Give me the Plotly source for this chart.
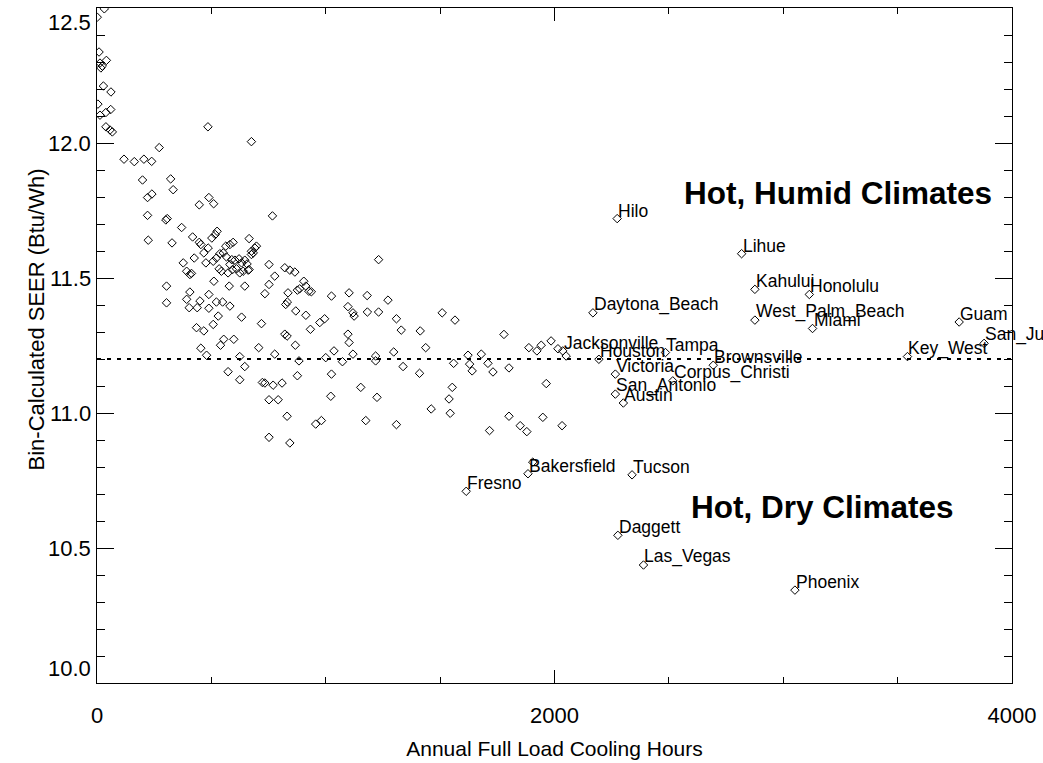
import plotly.graph_objects as go

# ---------------- data ----------------
# unlabeled stations: annual full load cooling hours / bin-calculated SEER
other_hours = [
    1, 32, 9, 13, 23, 41, 17, 28, 61, 4, 13, 39, 60, 39, 57, 67,
    118, 163, 205, 239, 272, 485, 675, 199, 322, 333, 221, 240,
    447, 489, 510, 221, 767, 301, 307, 370, 224, 328,
    418, 447, 454, 486, 502, 517, 525, 563, 581, 595, 665, 675, 690, 697,
    425, 467, 476, 508, 522, 537, 552, 566, 581, 589, 603, 621, 632, 646, 656, 665, 675, 683,
    377, 392, 406, 413, 511, 534, 544, 573, 592, 610, 624, 639, 661, 752, 777, 821, 843, 865,
    304, 406, 578, 646, 734, 752, 835, 876, 886, 904, 913, 926, 937, 1025, 1102,
    304, 392, 403, 438, 450, 489, 489, 522, 549, 581, 632, 719, 825, 832, 869, 913, 974, 995, 1097,
    435, 467, 508, 530, 540, 554, 598, 707, 777, 821, 831, 867, 933, 1000, 1036, 1097, 1102,
    454, 479, 624, 646, 573, 624, 883, 1073,
    723, 734, 770, 809, 876, 1025, 752, 792, 1022,
    831, 956, 981, 752, 843,
    1231, 1181, 1272, 1119, 1124, 1182, 1231, 1309, 1330, 1119, 1218, 1218, 1297, 1338,
    1413, 1437, 1410, 1509, 1565, 1559, 1622, 1629, 1640, 1680, 1709, 1731, 1779, 1801,
    1888, 1923, 1942, 1985, 2015, 2051, 1153, 1224, 1553, 1539, 1461, 1544, 1964, 1175,
    1309, 1801, 1850, 1879, 1949, 2033, 1716, 1905,
]
other_seer = [
    12.466, 12.497, 12.337, 12.296, 12.285, 12.306, 12.278, 12.211, 12.189, 12.144, 12.103, 12.113, 12.124, 12.060, 12.048, 12.041,
    11.940, 11.931, 11.940, 11.932, 11.983, 12.060, 12.005, 11.863, 11.867, 11.827, 11.798, 11.811,
    11.771, 11.798, 11.775, 11.732, 11.730, 11.715, 11.720, 11.687, 11.640, 11.630,
    11.652, 11.632, 11.624, 11.611, 11.648, 11.661, 11.673, 11.618, 11.624, 11.632, 11.646, 11.599, 11.611, 11.618,
    11.574, 11.593, 11.556, 11.562, 11.574, 11.590, 11.593, 11.578, 11.550, 11.568, 11.566, 11.571, 11.556, 11.566, 11.552, 11.531, 11.587, 11.593,
    11.556, 11.525, 11.513, 11.517, 11.488, 11.534, 11.525, 11.519, 11.531, 11.534, 11.519, 11.525, 11.529, 11.550, 11.507, 11.538, 11.529, 11.522,
    11.470, 11.448, 11.470, 11.470, 11.442, 11.476, 11.445, 11.455, 11.460, 11.488, 11.470, 11.451, 11.449, 11.433, 11.445,
    11.408, 11.421, 11.390, 11.390, 11.415, 11.439, 11.388, 11.411, 11.411, 11.396, 11.355, 11.331, 11.402, 11.411, 11.378, 11.362, 11.335, 11.349, 11.394,
    11.316, 11.304, 11.328, 11.359, 11.251, 11.273, 11.273, 11.242, 11.218, 11.292, 11.285, 11.251, 11.310, 11.205, 11.230, 11.292, 11.261,
    11.240, 11.214, 11.209, 11.172, 11.153, 11.123, 11.193, 11.190,
    11.113, 11.111, 11.103, 11.111, 11.138, 11.144, 11.049, 11.049, 11.062,
    10.988, 10.959, 10.972, 10.910, 10.889,
    11.568, 11.435, 11.418, 11.371, 11.359, 11.374, 11.374, 11.349, 11.307, 11.218, 11.211, 11.193, 11.226, 11.172,
    11.304, 11.242, 11.147, 11.371, 11.344, 11.184, 11.214, 11.181, 11.156, 11.218, 11.184, 11.152, 11.291, 11.167,
    11.242, 11.230, 11.251, 11.267, 11.238, 11.211, 11.095, 11.058, 11.095, 11.052, 11.015, 10.999, 11.109, 10.972,
    10.957, 10.988, 10.953, 10.931, 10.984, 10.953, 10.935, 10.818,
]

# labeled stations
city_names = [
    "Hilo", "Lihue", "Kahului", "Honolulu", "Daytona_Beach", "West_Palm_Beach", "Miami",
    "Jacksonville", "Houston", "Tampa", "Brownsville", "Victoria", "Corpus_Christi",
    "San_Antonio", "Austin", "Guam", "San_Juan", "Key_West",
    "Fresno", "Bakersfield", "Tucson", "Daggett", "Las_Vegas", "Phoenix",
]
city_hours = [
    2274, 2818, 2876, 3114, 2168, 2876, 3128,
    2036, 2194, 2485, 2694, 2266, 2517,
    2266, 2301, 3769, 3878, 3543,
    1614, 1884, 2339, 2277, 2389, 3051,
]
city_seer = [
    11.720, 11.590, 11.458, 11.439, 11.371, 11.344, 11.313,
    11.230, 11.199, 11.224, 11.177, 11.144, 11.119,
    11.070, 11.037, 11.337, 11.258, 11.209,
    10.710, 10.775, 10.771, 10.547, 10.437, 10.344,
]

reference_seer = 11.2
x_range = [0, 4000]
y_range = [10.0, 12.5]
x_tick_values = [0, 2000, 4000]
y_tick_values = [10.0, 10.5, 11.0, 11.5, 12.0, 12.5]

FONT = "Liberation Sans, Arial, Helvetica, sans-serif"

# ---------------- figure ----------------
fig = go.Figure()

fig.add_trace(go.Scatter(
    x=x_range, y=[reference_seer, reference_seer], mode="lines",
    line=dict(color="black", width=2, dash="4px,6px"),
    hoverinfo="skip", showlegend=False,
))

marker_style = dict(symbol="diamond-open", size=6.5, color="black",
                    line=dict(color="black", width=1))

fig.add_trace(go.Scatter(
    x=other_hours, y=other_seer, mode="markers",
    marker=marker_style, showlegend=False,
))
fig.add_trace(go.Scatter(
    x=city_hours, y=city_seer, mode="markers", text=city_names,
    marker=marker_style, showlegend=False,
))

annotations = []
for name, hx, sy in zip(city_names, city_hours, city_seer):
    annotations.append(dict(
        x=hx, y=sy, xref="x", yref="y", text=name, showarrow=False,
        xanchor="left", yanchor="bottom", xshift=-1, yshift=-4,
        font=dict(family=FONT, size=17.5, color="black"),
    ))

# y tick labels (first/last kept inside the frame as in the original)
for v in y_tick_values:
    if v == y_range[1]:
        ya = "top"
    elif v == y_range[0]:
        ya = "bottom"
    else:
        ya = "middle"
    annotations.append(dict(
        x=0, y=v, xref="paper", yref="y", text=f"{v:.1f}", showarrow=False,
        xanchor="right", yanchor=ya, xshift=-4,
        font=dict(family=FONT, size=22, color="black"),
    ))

# y axis title
annotations.append(dict(
    x=-0.066, y=0.538, xref="paper", yref="paper",
    text="Bin-Calculated SEER (Btu/Wh)", showarrow=False, textangle=-90,
    xanchor="center", yanchor="middle",
    font=dict(family=FONT, size=22, color="black"),
))

# region labels
annotations.append(dict(
    x=2559, y=11.815, xref="x", yref="y", text="<b>Hot, Humid Climates</b>",
    showarrow=False, xanchor="left", yanchor="middle",
    font=dict(family=FONT, size=31.5, color="black"),
))
annotations.append(dict(
    x=2590, y=10.653, xref="x", yref="y", text="<b>Hot, Dry Climates</b>",
    showarrow=False, xanchor="left", yanchor="middle",
    font=dict(family=FONT, size=31.5, color="black"),
))

fig.update_layout(
    width=1043, height=763,
    margin=dict(l=97, r=30, t=7, b=78),
    paper_bgcolor="white", plot_bgcolor="white",
    font=dict(family=FONT, color="black"),
    showlegend=False,
    annotations=annotations,
    xaxis=dict(
        range=x_range, tickvals=x_tick_values, ticktext=[str(v) for v in x_tick_values],
        ticks="inside", ticklen=13, tickwidth=1, tickcolor="black",
        minor=dict(dtick=500, ticks="inside", ticklen=6, tickcolor="black", showgrid=False),
        showline=True, linecolor="black", linewidth=1, mirror="ticks",
        showgrid=False, zeroline=False,
        tickfont=dict(family=FONT, size=22, color="black"),
        ticklabelstandoff=13,
        title=dict(text="Annual Full Load Cooling Hours", standoff=13,
                   font=dict(family=FONT, size=21, color="black")),
    ),
    yaxis=dict(
        range=y_range, tickvals=y_tick_values, showticklabels=False,
        ticks="inside", ticklen=17, tickwidth=1, tickcolor="black",
        minor=dict(dtick=0.1, ticks="inside", ticklen=8, tickcolor="black", showgrid=False),
        showline=True, linecolor="black", linewidth=1, mirror="ticks",
        showgrid=False, zeroline=False,
    ),
)

fig.write_html(
    "out.html",
    config={"displayModeBar": False},
    post_script="document.body.style.margin='0';document.body.style.overflow='hidden';",
)
